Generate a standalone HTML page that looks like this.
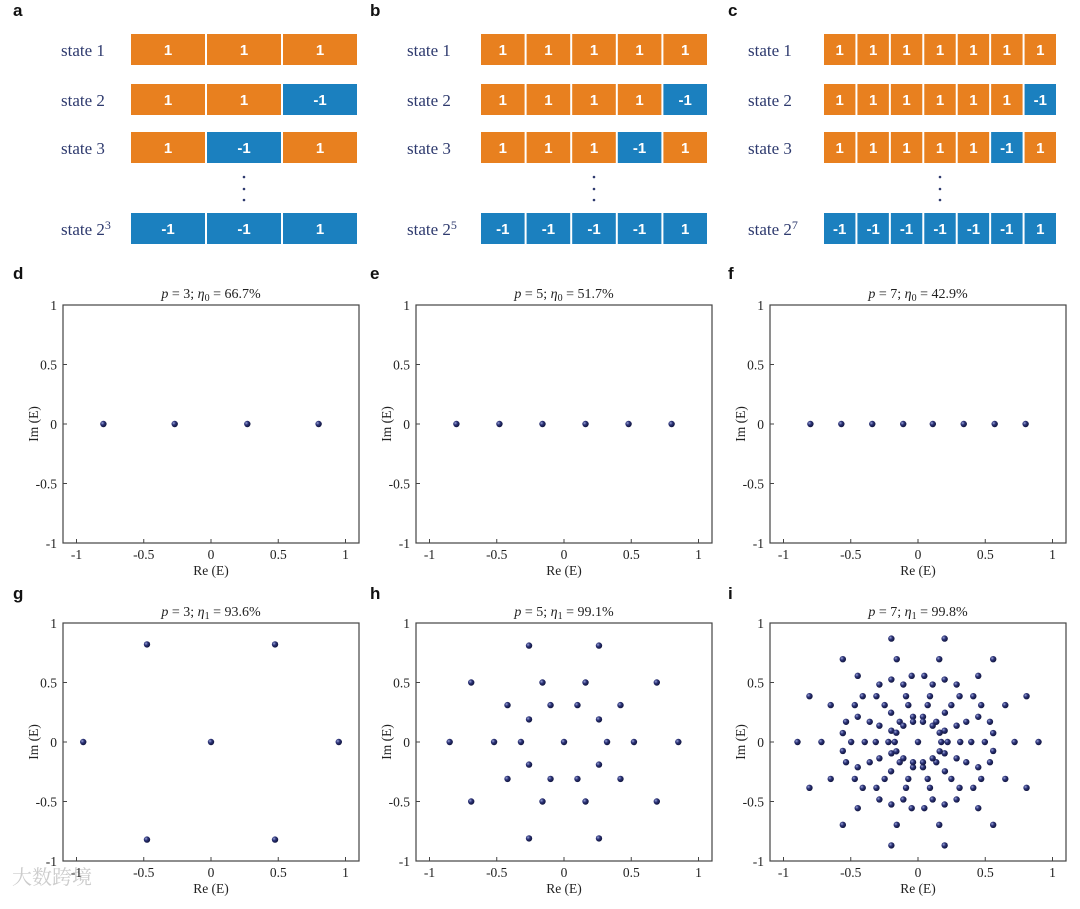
<!DOCTYPE html>
<html><head><meta charset="utf-8"><style>
body{margin:0;background:#fff;}
svg{display:block;}
.lab{font-family:"Liberation Serif","Noto Serif CJK SC",serif;}
.st{font-family:"Liberation Serif",serif;font-size:17px;fill:#2e3a6e;}
.cell{font-family:"Liberation Sans",sans-serif;font-weight:bold;font-size:15px;fill:#fff;}
.pl{font-family:"Liberation Sans",sans-serif;font-weight:bold;font-size:17px;fill:#111;}
.tk{font-family:"Liberation Serif",serif;font-size:13.5px;fill:#222;}
.ti{font-family:"Liberation Serif",serif;font-size:14px;fill:#222;}
</style></head><body>
<svg id="fig" width="1080" height="909" viewBox="0 0 1080 909" xmlns="http://www.w3.org/2000/svg">
<defs><radialGradient id="ball" cx="35%" cy="35%" r="65%"><stop offset="0" stop-color="#9aa3d8"/><stop offset="0.45" stop-color="#2c3378"/><stop offset="1" stop-color="#12163f"/></radialGradient></defs>
<text x="12" y="884" class="lab" fill="#ccc" font-size="20" font-family="Noto Sans CJK SC">大数跨境</text>
</svg>
<script>
// ---- data ----
const statesA = [[1,1,1],[1,1,-1],[1,-1,1],[-1,-1,1]];
const statesB = [[1,1,1,1,1],[1,1,1,1,-1],[1,1,1,-1,1],[-1,-1,-1,-1,1]];
const statesC = [[1,1,1,1,1,1,1],[1,1,1,1,1,1,-1],[1,1,1,1,1,-1,1],[-1,-1,-1,-1,-1,-1,1]];
const stateNames = ["state 1","state 2","state 3","state 2"];
const expA = "3", expB = "5", expC = "7";
const dRe = [-0.8,-0.27,0.27,0.8], dIm = [0,0,0,0];
const eRe = [-0.80,-0.48,-0.16,0.16,0.48,0.80], eIm = [0,0,0,0,0,0];
const fRe = [-0.8,-0.57,-0.34,-0.11,0.11,0.34,0.57,0.8], fIm = [0,0,0,0,0,0,0,0];
const gRe = [-0.95,-0.476,-0.476,0,0.476,0.476,0.95], gIm = [0,0.82,-0.82,0,0.82,-0.82,0];
const hQx = [0.69,0.26,0.42,0.16,0.26,0.10], hQy = [0.5,0.81,0.31,0.5,0.19,0.31];
const hAxis = [0.85,0.52,0.32];
const iQx = [0.198,0.559,0.158,0.448,0.047,0.198,0.287,0.109,0.807,0.411,0.309,0.089,0.649,0.470,0.248,0.072,0.200,0.448,0.037,0.535,0.359,0.287,0.136,0.109,0.037,0.559,0.198,0.161];
const iQy = [0.869,0.696,0.696,0.556,0.556,0.525,0.483,0.483,0.385,0.385,0.385,0.385,0.310,0.310,0.310,0.310,0.246,0.212,0.212,0.170,0.170,0.137,0.170,0.137,0.170,0.075,0.095,0.078];
const iAxis = [0.896,0.718,0.497,0.396,0.314,0.220,0.173];
const titlesP = ["3","5","7","3","5","7"];
const titlesEta = ["0","0","0","1","1","1"];
const titlesVal = ["66.7%","51.7%","42.9%","93.6%","99.1%","99.8%"];
const ticks = [-1,-0.5,0,0.5,1];
const tickLabels = ["-1","-0.5","0","0.5","1"];

const NS="http://www.w3.org/2000/svg";
const svg=document.getElementById('fig');
function el(t,a,p){const e=document.createElementNS(NS,t);for(const k in a)e.setAttribute(k,a[k]);(p||svg).appendChild(e);return e;}

function mirror(qx,qy,ax){const re=[0],im=[0];
  qx.forEach((x,i)=>{const y=qy[i];[[x,y],[-x,y],[x,-y],[-x,-y]].forEach(p=>{re.push(p[0]);im.push(p[1]);});});
  ax.forEach(x=>{re.push(x,-x);im.push(0,0);});return [re,im];}
const [hRe,hIm]=mirror(hQx,hQy,hAxis);
const [iRe,iIm]=mirror(iQx,iQy,iAxis);

const letters=[["a",13,16],["b",370,16],["c",728,16],["d",13,279],["e",370,279],["f",728,279],["g",13,599],["h",370,599],["i",728,599]];
letters.forEach(l=>{const t=el('text',{x:l[1],y:l[2],class:'pl'});t.textContent=l[0];

});

const rowsY=[34,84,132,213];
function statePanel(states,x0,x1,labX,exp,name){
  const g=el('g',{});
  
  
  const n=states[0].length,w=(x1-x0)/n;
  states.forEach((s,r)=>{
    const y=rowsY[r];
    const t=el('text',{x:labX,y:y+22,class:'st'},g);
    t.textContent=stateNames[r];
    if(r===3){const sp=el('tspan',{dy:-6,'font-size':'12'},t);sp.textContent=exp;}
    
    
    s.forEach((v,c)=>{
      const blue = v<0 || r===3;
      const rc=el('rect',{x:x0+c*w+1,y:y,width:w-2,height:31,fill:blue?'#1b80bf':'#e8801f'},g);
      
      
      const tt=el('text',{x:x0+c*w+w/2,y:y+21,'text-anchor':'middle',class:'cell'},g);tt.textContent=String(v);
    });
  });
  const mx=x0+(x1-x0)/2;
  [177,189,200].forEach(yy=>el('circle',{cx:mx,cy:yy,r:1.3,fill:'#2e3a6e'},g));
}
statePanel(statesA,130,358,61,expA,'panel-a-states');
statePanel(statesB,480,708,407,expB,'panel-b-states');
statePanel(statesC,823,1057,748,expC,'panel-c-states');

function scatter(idx,left,top,re,im){
  const W=296,H=238,right=left+W,bottom=top+H;
  const cx=left+W/2,cy=top+H/2,sx=134.5,sy=H/2;
  const X=v=>cx+v*sx, Y=v=>cy-v*sy;
  const g=el('g',{});
  
  
  const box=el('rect',{x:left,y:top,width:W,height:H,fill:'none',stroke:'#444','stroke-width':1.2},g);
  
  
  ticks.forEach((t,k)=>{
    el('line',{x1:X(t),x2:X(t),y1:bottom,y2:bottom-4,stroke:'#444'},g);
    el('line',{x1:left,x2:left+4,y1:Y(t),y2:Y(t),stroke:'#444'},g);
    const xl=el('text',{x:X(t),y:bottom+16,'text-anchor':'middle',class:'tk'},g);xl.textContent=tickLabels[k];
    
    
    const yl=el('text',{x:left-6,y:Y(t)+5,'text-anchor':'end',class:'tk'},g);yl.textContent=tickLabels[k];
    
    
  });
  const xt=el('text',{x:cx,y:bottom+32,'text-anchor':'middle',class:'tk'},g);xt.textContent='Re (E)';
  
  
  const yt=el('text',{x:0,y:0,'text-anchor':'middle',class:'tk',transform:`translate(${left-25},${cy}) rotate(-90)`},g);yt.textContent='Im (E)';
  
  
  const tl=el('text',{x:cx,y:top-7,'text-anchor':'middle',class:'ti'},g);
  
  
  const a=el('tspan',{'font-style':'italic'},tl);a.textContent='p';
  const b=el('tspan',{},tl);b.textContent=' = '+titlesP[idx]+';  ';
  const c=el('tspan',{'font-style':'italic'},tl);c.textContent='η';
  const d=el('tspan',{dy:3,'font-size':'10'},tl);d.textContent=titlesEta[idx];
  const e=el('tspan',{dy:-3},tl);e.textContent=' = '+titlesVal[idx];
  re.forEach((v,k)=>{
    const p=el('circle',{cx:X(v),cy:Y(im[k]),r:3.2,fill:'url(#ball)'},g);
    
    
  });
}
scatter(0,63,305,dRe,dIm);
scatter(1,416,305,eRe,eIm);
scatter(2,770,305,fRe,fIm);
scatter(3,63,623,gRe,gIm);
scatter(4,416,623,hRe,hIm);
scatter(5,770,623,iRe,iIm);
</script>
</body></html>
